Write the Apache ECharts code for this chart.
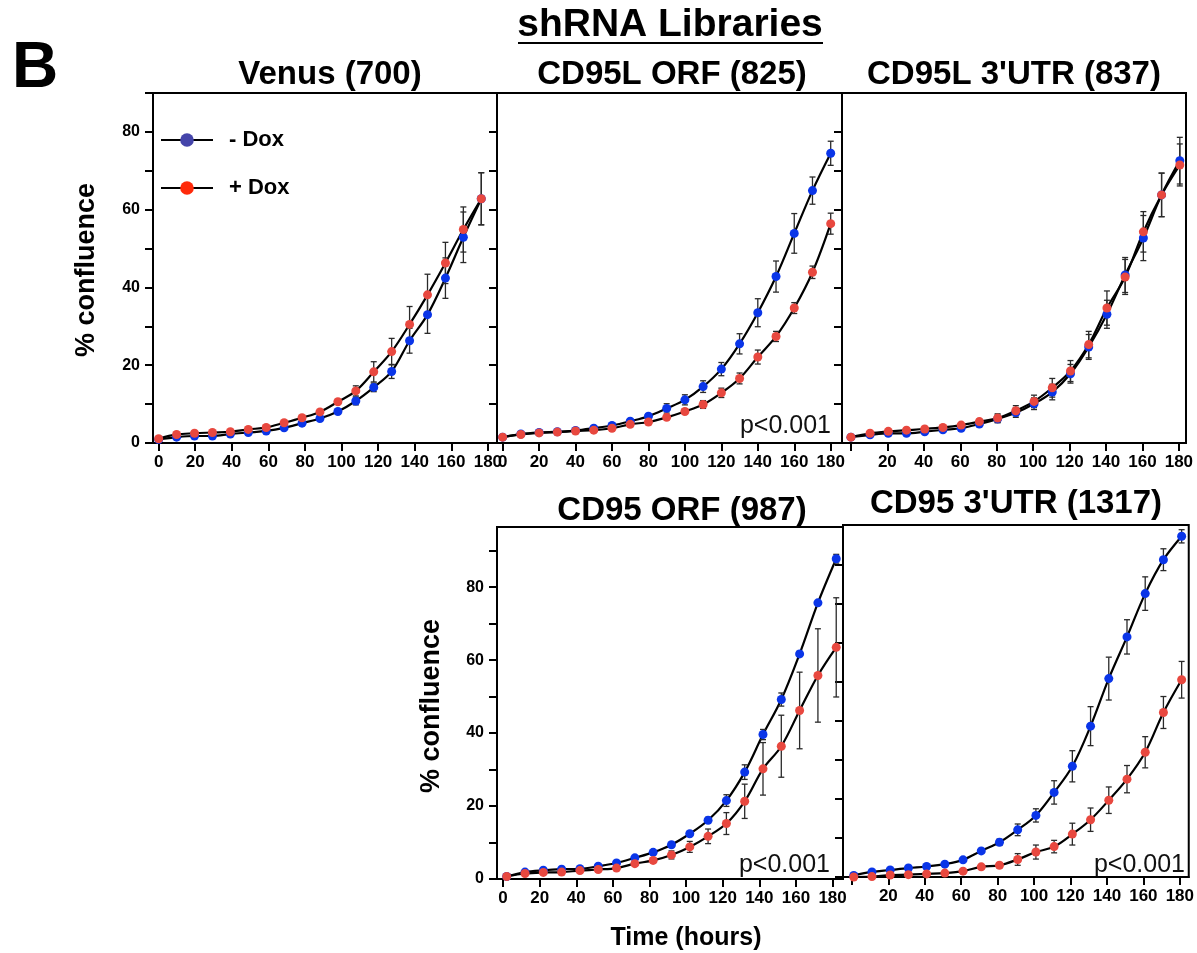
<!DOCTYPE html>
<html>
<head>
<meta charset="utf-8">
<title>shRNA Libraries</title>
<script src="https://cdn.jsdelivr.net/npm/echarts@6/dist/echarts.min.js"></script>
<style>
  html, body { margin: 0; padding: 0; background: #fff; }
  #chart { width: 1197px; height: 953px; }
</style>
</head>
<body>
<div id="chart"></div>
<script>
// time points (hours) per panel
const venusTime = [0, 9.8, 19.6, 29.4, 39.2, 49, 58.8, 68.6, 78.4, 88.2, 98, 107.8, 117.6, 127.4, 137.2, 147, 156.8, 166.6, 176.4];
const cd95lOrfTime = [0, 10, 20, 30, 40, 50, 60, 70, 80, 90, 100, 110, 120, 130, 140, 150, 160, 170, 180];
const cd95lUtrTime = [0, 10.5, 20.5, 30.5, 40.5, 50.5, 60.5, 70.5, 80.5, 90.5, 100.5, 110.5, 120.5, 130.5, 140.5, 150.5, 160.5, 170.5, 180.5];
const cd95OrfTime = [2, 12, 22, 32, 42, 52, 62, 72, 82, 92, 102, 112, 122, 132, 142, 152, 162, 172, 182];
const cd95UtrTime = [1, 11, 21, 31, 41, 51, 61, 71, 81, 91, 101, 111, 121, 131, 141, 151, 161, 171, 181];

// % confluence, - Dox / + Dox, with error (+/-)
const venusMinus = [0.9, 1.5, 1.8, 1.8, 2.3, 2.7, 3.1, 3.9, 5.1, 6.3, 8.1, 10.8, 14.3, 18.4, 26.3, 33.0, 42.4, 52.9, 62.8];
const venusPlus = [1.1, 2.2, 2.5, 2.7, 2.9, 3.5, 4.0, 5.2, 6.5, 8.0, 10.6, 13.4, 18.3, 23.5, 30.5, 38.1, 46.3, 54.9, 62.8];
const venusMinusErr = [0.2, 0.3, 0.3, 0.3, 0.3, 0.3, 0.3, 0.3, 0.3, 0.4, 0.5, 1.0, 1.1, 1.8, 3.2, 4.8, 5.2, 6.5, 6.7];
const venusPlusErr = [0.2, 0.3, 0.3, 0.3, 0.3, 0.3, 0.3, 0.3, 0.3, 0.4, 0.6, 1.3, 2.6, 3.4, 4.6, 5.3, 5.3, 5.8, 6.7];

const cd95lOrfMinus = [1.5, 2.3, 2.7, 2.9, 3.2, 3.8, 4.5, 5.6, 6.9, 8.9, 11.1, 14.5, 19.0, 25.5, 33.5, 42.8, 53.9, 64.9, 74.5];
const cd95lOrfPlus = [1.5, 2.2, 2.6, 2.8, 3.1, 3.3, 3.8, 4.8, 5.4, 6.6, 8.1, 9.9, 12.9, 16.6, 22.1, 27.4, 34.7, 43.9, 56.4];
const cd95lOrfMinusErr = [0.2, 0.2, 0.2, 0.2, 0.2, 0.3, 0.3, 0.4, 0.5, 1.2, 1.3, 1.5, 1.7, 2.6, 3.6, 4.0, 5.1, 3.5, 3.1];
const cd95lOrfPlusErr = [0.2, 0.2, 0.2, 0.2, 0.2, 0.2, 0.3, 0.3, 0.4, 0.5, 0.7, 1.0, 1.2, 1.4, 1.8, 1.3, 1.4, 1.6, 2.7];

const cd95lUtrMinus = [1.5, 2.1, 2.5, 2.5, 2.9, 3.4, 3.8, 4.9, 6.2, 7.8, 10.1, 13.1, 17.8, 24.7, 33.1, 43.2, 52.7, 63.8, 72.6];
const cd95lUtrPlus = [1.5, 2.5, 3.0, 3.3, 3.6, 4.0, 4.6, 5.5, 6.4, 8.3, 10.7, 14.2, 18.5, 25.3, 34.7, 42.7, 54.3, 63.8, 71.5];
const cd95lUtrMinusErr = [0.2, 0.2, 0.3, 0.3, 0.3, 0.3, 0.4, 0.6, 1.0, 1.2, 1.5, 2.0, 2.4, 3.2, 3.6, 4.5, 5.8, 5.6, 6.0];
const cd95lUtrPlusErr = [0.2, 0.2, 0.3, 0.3, 0.3, 0.3, 0.4, 0.6, 1.1, 1.3, 1.6, 2.4, 2.7, 3.4, 4.4, 4.5, 5.2, 5.6, 5.4];

const cd95OrfMinus = [0.7, 1.9, 2.4, 2.7, 2.8, 3.5, 4.4, 5.8, 7.3, 9.4, 12.4, 16.1, 21.5, 29.3, 39.6, 49.2, 61.7, 75.7, 87.8];
const cd95OrfPlus = [0.7, 1.5, 1.8, 1.9, 2.3, 2.6, 3.0, 4.2, 5.1, 6.6, 8.8, 11.7, 15.2, 21.3, 30.2, 36.4, 46.2, 55.8, 63.5];
const cd95OrfMinusErr = [0.2, 0.2, 0.2, 0.2, 0.2, 0.3, 0.3, 0.4, 0.5, 0.6, 0.6, 0.8, 1.6, 2.0, 1.4, 1.8, 0.7, 0.5, 1.2];
const cd95OrfPlusErr = [0.2, 0.2, 0.2, 0.2, 0.2, 0.3, 0.3, 0.5, 0.6, 1.1, 1.5, 2.0, 3.0, 4.7, 7.2, 8.5, 10.5, 12.8, 13.6];

const cd95UtrMinus = [0.4, 1.3, 1.8, 2.3, 2.7, 3.3, 4.4, 6.7, 8.9, 12.1, 15.8, 21.7, 28.4, 38.7, 50.9, 61.6, 72.7, 81.4, 87.4];
const cd95UtrPlus = [0.0, 0.1, 0.5, 0.6, 0.8, 1.0, 1.5, 2.6, 3.0, 4.5, 6.4, 7.8, 11.0, 14.7, 19.7, 25.1, 32.0, 42.2, 50.6];
const cd95UtrMinusErr = [0.2, 0.3, 0.3, 0.3, 0.3, 0.4, 0.4, 0.6, 0.8, 1.5, 1.7, 3.0, 4.0, 5.0, 5.5, 4.4, 4.3, 2.8, 1.7];
const cd95UtrPlusErr = [0.2, 0.2, 0.2, 0.2, 0.2, 0.3, 0.3, 0.5, 0.6, 1.5, 1.8, 1.6, 2.8, 3.0, 3.4, 3.5, 4.0, 4.1, 4.7];

// axis ticks / labels
const xTicks = [0, 20, 40, 60, 80, 100, 120, 140, 160, 180];
const xTickLabels = [0, 20, 40, 60, 80, 100, 120, 140, 160, 180];
const xTickLabelsNoZero = [20, 40, 60, 80, 100, 120, 140, 160, 180];
const yTicks = [0, 10, 20, 30, 40, 50, 60, 70, 80, 90];
const yTicksShort = [0, 10, 20, 30, 40, 50, 60, 70, 80];
const yTickLabels = [0, 20, 40, 60, 80];

const FONT = '"Liberation Sans", Arial, Helvetica, sans-serif';
const BLUE = '#0a35e8';
const RED = '#e8483f';
const ERR = '#2a2a2a';

const panels = [
  { title: 'Venus (700)', time: venusTime, minus: venusMinus, plus: venusPlus, minusErr: venusMinusErr, plusErr: venusPlusErr,
    grid: { left: 153, top: 93, width: 344, height: 350 }, xMin: -3.1, xMax: 185, yMax: 90,
    yTicks: yTicks, yLabels: yTickLabels, xLabels: xTickLabels },
  { title: 'CD95L ORF (825)', time: cd95lOrfTime, minus: cd95lOrfMinus, plus: cd95lOrfPlus, minusErr: cd95lOrfMinusErr, plusErr: cd95lOrfPlusErr,
    grid: { left: 497, top: 93, width: 345, height: 350 }, xMin: -3.1, xMax: 186.2, yMax: 90,
    yTicks: yTicks, yLabels: null, xLabels: xTickLabels },
  { title: "CD95L 3'UTR (837)", time: cd95lUtrTime, minus: cd95lUtrMinus, plus: cd95lUtrPlus, minusErr: cd95lUtrMinusErr, plusErr: cd95lUtrPlusErr,
    grid: { left: 842, top: 93, width: 344, height: 350 }, xMin: -4.9, xMax: 183.9, yMax: 90,
    yTicks: yTicks, yLabels: null, xLabels: xTickLabelsNoZero },
  { title: 'CD95 ORF (987)', time: cd95OrfTime, minus: cd95OrfMinus, plus: cd95OrfPlus, minusErr: cd95OrfMinusErr, plusErr: cd95OrfPlusErr,
    grid: { left: 497, top: 527, width: 346, height: 352 }, xMin: -3.3, xMax: 185.7, yMax: 96.5,
    yTicks: yTicks, yLabels: yTickLabels, xLabels: xTickLabels },
  { title: "CD95 3'UTR (1317)", time: cd95UtrTime, minus: cd95UtrMinus, plus: cd95UtrPlus, minusErr: cd95UtrMinusErr, plusErr: cd95UtrPlusErr,
    grid: { left: 843, top: 525, width: 348, height: 352 }, xMin: -4.9, xMax: 184.9, yMax: 90.3,
    yTicks: yTicksShort, yLabels: null, xLabels: xTickLabelsNoZero }
];

function errorBars(params, api) {
  const x = api.value(0), y = api.value(1), e = api.value(2);
  const hi = api.coord([x, y + e]);
  const lo = api.coord([x, y - e]);
  const st = { stroke: ERR, lineWidth: 1.3 };
  return {
    type: 'group',
    children: [
      { type: 'line', shape: { x1: hi[0], y1: hi[1], x2: lo[0], y2: lo[1] }, style: st },
      { type: 'line', shape: { x1: hi[0] - 3, y1: hi[1], x2: hi[0] + 3, y2: hi[1] }, style: st },
      { type: 'line', shape: { x1: lo[0] - 3, y1: lo[1], x2: lo[0] + 3, y2: lo[1] }, style: st }
    ]
  };
}

const grids = [], xAxes = [], yAxes = [], series = [];
panels.forEach((p, i) => {
  grids.push(Object.assign({ show: true, borderColor: '#000', borderWidth: 2, containLabel: false }, p.grid));
  xAxes.push({
    gridIndex: i, type: 'value', min: p.xMin, max: p.xMax,
    axisLine: { show: true, onZero: false, lineStyle: { color: '#000', width: 2 } },
    axisTick: { show: true, length: 8, customValues: xTicks, lineStyle: { color: '#000', width: 2 } },
    axisLabel: { customValues: p.xLabels, fontSize: 17, fontWeight: 'bold', color: '#000', margin: 11, fontFamily: FONT },
    splitLine: { show: false }
  });
  yAxes.push({
    gridIndex: i, type: 'value', min: 0, max: p.yMax,
    axisLine: { show: true, onZero: false, lineStyle: { color: '#000', width: 2 } },
    axisTick: { show: true, length: 8, customValues: p.yTicks, lineStyle: { color: '#000', width: 2 } },
    axisLabel: p.yLabels
      ? { customValues: p.yLabels, fontSize: 16, fontWeight: 'bold', color: '#000', margin: 13, fontFamily: FONT }
      : { show: false },
    splitLine: { show: false }
  });

  const pairs = (vals) => p.time.map((t, k) => [t, vals[k]]);
  const triples = (vals, errs) => p.time.map((t, k) => [t, vals[k], errs[k]]);

  [['- Dox', p.minus, BLUE], ['+ Dox', p.plus, RED]].forEach(([name, vals, color]) => {
    series.push({
      name: name, type: 'line', xAxisIndex: i, yAxisIndex: i,
      data: pairs(vals), smooth: 0.35, showSymbol: false, symbol: 'circle',
      lineStyle: { color: '#000', width: 2.2 }, itemStyle: { color: color }, z: 2
    });
  });
  [[p.minus, p.minusErr], [p.plus, p.plusErr]].forEach(([vals, errs]) => {
    series.push({
      type: 'custom', xAxisIndex: i, yAxisIndex: i, renderItem: errorBars,
      data: triples(vals, errs), encode: { x: 0, y: 1 }, z: 3, silent: true
    });
  });
  [['- Dox', p.minus, BLUE], ['+ Dox', p.plus, RED]].forEach(([name, vals, color]) => {
    series.push({
      name: name, type: 'scatter', xAxisIndex: i, yAxisIndex: i,
      data: pairs(vals), symbol: 'circle', symbolSize: 9,
      itemStyle: { color: color, opacity: 1 }, z: 4
    });
  });
});

const titleFont = 'bold 33px ' + FONT;
const graphics = [
  { type: 'text', x: 12, y: 101, style: { text: 'B', font: 'bold 64px ' + FONT, fill: '#000', align: 'left', verticalAlign: 'bottom' } },
  { type: 'text', x: 670, y: 45, style: { text: 'shRNA Libraries', font: 'bold 39px ' + FONT, fill: '#000', align: 'center', verticalAlign: 'bottom' } },
  { type: 'line', shape: { x1: 518, y1: 43, x2: 823, y2: 43 }, style: { stroke: '#000', lineWidth: 2 } },
  { type: 'text', x: 330, y: 91, style: { text: panels[0].title, font: titleFont, fill: '#000', align: 'center', verticalAlign: 'bottom' } },
  { type: 'text', x: 672, y: 91, style: { text: panels[1].title, font: titleFont, fill: '#000', align: 'center', verticalAlign: 'bottom' } },
  { type: 'text', x: 1014, y: 91, style: { text: panels[2].title, font: titleFont, fill: '#000', align: 'center', verticalAlign: 'bottom' } },
  { type: 'text', x: 682, y: 527, style: { text: panels[3].title, font: titleFont, fill: '#000', align: 'center', verticalAlign: 'bottom' } },
  { type: 'text', x: 1016, y: 520, style: { text: panels[4].title, font: titleFont, fill: '#000', align: 'center', verticalAlign: 'bottom' } },
  { type: 'text', x: 87, y: 270, rotation: Math.PI / 2, style: { text: '% confluence', font: 'bold 27px ' + FONT, fill: '#000', align: 'center', verticalAlign: 'middle' } },
  { type: 'text', x: 432, y: 706, rotation: Math.PI / 2, style: { text: '% confluence', font: 'bold 27px ' + FONT, fill: '#000', align: 'center', verticalAlign: 'middle' } },
  { type: 'text', x: 686, y: 938, style: { text: 'Time (hours)', font: 'bold 25px ' + FONT, fill: '#000', align: 'center', verticalAlign: 'middle' } },
  { type: 'text', x: 831, y: 439, style: { text: 'p<0.001', font: '25px ' + FONT, fill: '#111', align: 'right', verticalAlign: 'bottom' } },
  { type: 'text', x: 830, y: 878, style: { text: 'p<0.001', font: '25px ' + FONT, fill: '#111', align: 'right', verticalAlign: 'bottom' } },
  { type: 'text', x: 1185, y: 878, style: { text: 'p<0.001', font: '25px ' + FONT, fill: '#111', align: 'right', verticalAlign: 'bottom' } }
];

const chart = echarts.init(document.getElementById('chart'));
chart.setOption({
  animation: false,
  backgroundColor: '#fff',
  grid: grids,
  xAxis: xAxes,
  yAxis: yAxes,
  legend: {
    orient: 'vertical', left: 160, top: 129, padding: 0, itemWidth: 52, itemHeight: 17, itemGap: 26,
    data: [
      { name: '- Dox', itemStyle: { color: '#4444aa' } },
      { name: '+ Dox', itemStyle: { color: '#ff2a0a' } }
    ],
    textStyle: { fontSize: 22, fontWeight: 'bold', color: '#000', fontFamily: FONT, padding: [0, 0, 0, 11] }
  },
  graphic: graphics,
  series: series
});
</script>
</body>
</html>
